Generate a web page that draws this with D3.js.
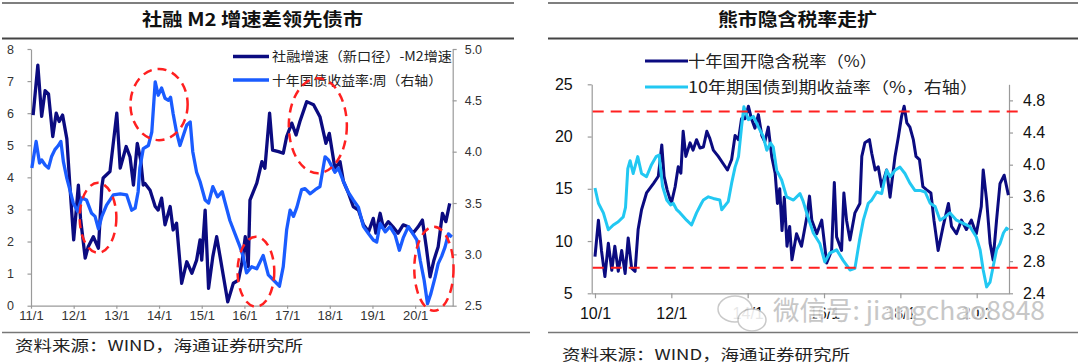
<!DOCTYPE html>
<html><head><meta charset="utf-8">
<script src="https://cdn.jsdelivr.net/npm/d3@7"></script>
<style>
body{margin:0;background:#fff}
svg{display:block}
.cjk{font-family:"Noto Sans CJK SC","Noto Sans",sans-serif}
.num{font-family:"Liberation Sans",Arial,sans-serif}
</style></head>
<body><svg id="c" width="1080" height="364"></svg>
<script>
// ---------- LEFT CHART DATA ----------
const leftTitle = "社融 M2 增速差领先债市";
const leftSeriesNames = ["社融增速（新口径）-M2增速", "十年国债收益率:周（右轴）"];
const leftXTicks = [2011,2012,2013,2014,2015,2016,2017,2018,2019,2020];
const leftXTickLabels = ["11/1","12/1","13/1","14/1","15/1","16/1","17/1","18/1","19/1","20/1"];
const leftYTicks = [0,1,2,3,4,5,6,7,8];
const leftY2Ticks = [2.5,3.0,3.5,4.0,4.5,5.0];
const spreadDates = [2011.05,2011.16,2011.25,2011.33,2011.41,2011.51,2011.59,2011.66,2011.74,2011.84,2011.91,2012.0,2012.11,2012.16,2012.27,2012.34,2012.46,2012.58,2012.66,2012.69,2012.85,2013.01,2013.09,2013.23,2013.32,2013.40,2013.49,2013.57,2013.63,2013.67,2013.79,2013.91,2013.98,2014.06,2014.14,2014.26,2014.33,2014.41,2014.53,2014.65,2014.77,2014.88,2014.96,2015.0,2015.08,2015.16,2015.26,2015.35,2015.43,2015.51,2015.61,2015.74,2015.86,2015.94,2016.02,2016.09,2016.13,2016.29,2016.41,2016.48,2016.59,2016.66,2016.80,2016.91,2016.99,2017.11,2017.21,2017.30,2017.46,2017.62,2017.77,2017.91,2017.99,2018.12,2018.24,2018.32,2018.44,2018.55,2018.67,2018.79,2018.91,2019.02,2019.08,2019.18,2019.26,2019.37,2019.48,2019.60,2019.72,2019.84,2019.95,2020.07,2020.17,2020.26,2020.35,2020.44,2020.54,2020.64,2020.72,2020.81];
const spreadValues = [5.94,7.5,5.9,6.7,6.6,5.27,6.0,5.74,5.94,5.2,3.76,2.05,3.76,2.72,1.48,1.84,2.15,1.79,3.71,3.98,4.18,6.0,4.29,4.96,4.64,3.76,5.06,4.54,3.76,3.81,3.6,3.09,2.98,3.35,2.52,3.09,2.36,2.57,0.70,1.37,1.01,1.42,2.05,1.42,2.98,0.54,1.53,2.15,1.53,0.9,0.12,0.70,0.8,1.32,2.15,1.22,3.29,3.82,4.49,4.28,6.0,4.85,4.8,4.75,5.27,5.69,5.32,5.74,6.36,6.26,5.89,5.06,5.37,4.28,4.49,3.87,3.5,3.09,2.98,2.52,2.31,2.72,2.26,2.88,2.41,2.62,2.46,2.26,2.52,2.46,2.26,2.46,2.67,1.84,0.9,1.42,1.84,2.88,2.62,3.19];
const yieldWDates = [2011.02,2011.12,2011.20,2011.25,2011.33,2011.41,2011.48,2011.56,2011.64,2011.70,2011.76,2011.84,2011.91,2011.99,2012.09,2012.19,2012.30,2012.42,2012.50,2012.58,2012.66,2012.77,2012.93,2013.09,2013.24,2013.36,2013.44,2013.51,2013.55,2013.63,2013.75,2013.83,2013.91,2013.98,2014.06,2014.14,2014.22,2014.27,2014.33,2014.41,2014.49,2014.57,2014.65,2014.73,2014.79,2014.88,2014.96,2015.08,2015.16,2015.26,2015.37,2015.48,2015.55,2015.66,2015.78,2015.90,2015.97,2016.05,2016.17,2016.29,2016.44,2016.56,2016.68,2016.82,2016.91,2016.99,2017.07,2017.15,2017.23,2017.34,2017.42,2017.54,2017.66,2017.77,2017.89,2017.97,2018.12,2018.20,2018.32,2018.44,2018.55,2018.67,2018.79,2018.91,2019.02,2019.10,2019.18,2019.30,2019.41,2019.53,2019.63,2019.72,2019.84,2019.92,2020.04,2020.12,2020.21,2020.29,2020.37,2020.47,2020.54,2020.62,2020.70,2020.78,2020.86];
const yieldWValues = [3.84,4.10,3.89,3.92,3.87,3.84,3.95,4.02,4.06,4.10,3.90,3.74,3.63,3.50,3.42,3.55,3.53,3.40,3.37,3.25,3.37,3.48,3.58,3.59,3.58,3.43,3.45,3.61,3.84,4.03,4.06,4.19,4.68,4.55,4.62,4.52,4.50,4.53,4.37,4.19,4.06,4.16,4.26,4.29,4.00,3.80,3.71,3.53,3.50,3.66,3.56,3.61,3.50,3.33,3.20,3.07,2.98,2.82,2.88,2.86,2.99,2.80,2.75,2.69,2.88,3.24,3.43,3.37,3.46,3.63,3.64,3.59,3.63,3.66,3.95,3.92,3.80,3.84,3.71,3.60,3.53,3.46,3.27,3.20,3.14,3.12,3.30,3.22,3.27,3.19,3.04,3.16,3.27,3.22,3.14,2.94,2.75,2.52,2.62,2.78,2.91,2.98,3.07,3.20,3.17];
// highlight ellipses: [center date, center value(left axis), half-width in years, half-height in left units]
const circleDates = [2012.57, 2014.0, 2016.27, 2017.72, 2020.44];
const circleValues = [2.74, 6.27, 1.06, 5.61, 1.15];
const circleHalfYears = [0.43, 0.67, 0.43, 0.68, 0.46];
const circleHalfValues = [1.09, 1.11, 1.09, 1.48, 1.31];

// ---------- RIGHT CHART DATA ----------
const rightTitle = "熊市隐含税率走扩";
const rightSeriesNames = ["十年国开隐含税率（%）", "10年期国债到期收益率（%，右轴）"];
const rightXTicks = [2010,2012,2014,2016,2018,2020];
const rightXTickLabels = ["10/1","12/1","14/1","16/1","18/1","20/1"];
const rightYTicks = [5,10,15,20,25];
const rightY2Ticks = [2.4,2.8,3.2,3.6,4.0,4.4,4.8];
const refLevels = [22.4, 7.45];
const taxDates = [2010.00,2010.09,2010.17,2010.26,2010.35,2010.44,2010.52,2010.61,2010.70,2010.79,2010.87,2010.96,2011.05,2011.13,2011.22,2011.35,2011.53,2011.66,2011.75,2011.81,2011.89,2012.00,2012.10,2012.18,2012.25,2012.31,2012.38,2012.49,2012.57,2012.66,2012.75,2012.84,2012.93,2013.01,2013.10,2013.23,2013.36,2013.47,2013.58,2013.67,2013.76,2013.84,2013.93,2014.02,2014.10,2014.19,2014.28,2014.37,2014.45,2014.54,2014.63,2014.72,2014.78,2014.84,2014.90,2014.96,2015.03,2015.10,2015.16,2015.28,2015.41,2015.55,2015.62,2015.68,2015.81,2015.94,2016.07,2016.20,2016.27,2016.33,2016.46,2016.52,2016.59,2016.68,2016.81,2016.94,2016.99,2017.07,2017.19,2017.25,2017.34,2017.42,2017.51,2017.64,2017.73,2017.86,2017.95,2018.03,2018.10,2018.17,2018.25,2018.34,2018.41,2018.50,2018.59,2018.69,2018.80,2018.88,2018.99,2019.12,2019.26,2019.34,2019.47,2019.60,2019.73,2019.86,2019.99,2020.12,2020.17,2020.26,2020.35,2020.43,2020.52,2020.61,2020.72,2020.83];
const taxValues = [8.5,12.0,9.1,6.6,9.8,7.2,9.5,7.1,9.1,6.9,10.3,7.4,7.1,11.1,13.0,14.6,15.5,16.2,19.2,16.2,14.9,13.6,15.2,17.1,16.5,20.5,18.1,19.4,18.7,19.7,18.9,19.0,20.5,19.8,18.7,18.1,17.4,16.8,17.8,20.1,19.7,21.7,21.7,22.9,21.7,20.8,22.1,20.1,19.5,20.9,18.1,16.5,13.6,15.0,11.0,14.2,9.5,11.4,8.2,10.7,9.5,12.3,14.3,12.0,10.7,12.0,7.9,9.1,15.6,10.4,9.1,14.6,12.0,10.1,12.7,13.6,18.1,19.4,19.7,18.4,16.8,17.1,15.2,16.8,14.2,18.1,20.0,21.9,22.9,21.3,20.9,19.7,18.1,17.8,15.2,14.9,14.6,12.0,9.1,11.4,13.6,11.4,10.7,12.0,11.1,12.0,10.7,13.3,16.8,13.9,9.8,8.2,12.0,15.5,16.3,14.4];
const cgbDates = [2010.00,2010.09,2010.22,2010.35,2010.48,2010.61,2010.74,2010.80,2010.86,2010.92,2011.00,2011.12,2011.22,2011.35,2011.48,2011.60,2011.68,2011.77,2011.88,2011.98,2012.05,2012.14,2012.23,2012.40,2012.53,2012.66,2012.79,2012.84,2012.97,2013.10,2013.27,2013.32,2013.49,2013.58,2013.67,2013.76,2013.84,2013.90,2014.02,2014.15,2014.28,2014.41,2014.50,2014.60,2014.67,2014.76,2014.89,2015.02,2015.20,2015.37,2015.45,2015.58,2015.72,2015.89,2016.02,2016.15,2016.33,2016.50,2016.68,2016.81,2016.93,2017.03,2017.16,2017.25,2017.38,2017.51,2017.64,2017.73,2017.86,2017.99,2018.12,2018.25,2018.38,2018.51,2018.65,2018.78,2018.91,2019.04,2019.17,2019.30,2019.47,2019.65,2019.82,2019.99,2020.09,2020.17,2020.26,2020.35,2020.43,2020.52,2020.61,2020.70,2020.78,2020.83];
const cgbValues = [3.71,3.52,3.40,3.19,3.25,3.29,3.35,3.47,3.95,4.05,3.89,4.10,3.89,3.85,4.00,4.10,4.12,3.73,3.56,3.50,3.52,3.44,3.40,3.31,3.25,3.40,3.52,3.56,3.60,3.58,3.56,3.44,3.54,3.77,3.97,4.10,4.47,4.72,4.56,4.60,4.47,4.35,4.18,4.27,4.22,3.93,3.81,3.60,3.56,3.64,3.55,3.35,3.15,3.02,2.79,2.90,2.94,2.81,2.69,2.71,3.06,3.31,3.52,3.56,3.66,3.64,3.93,3.85,3.93,3.97,3.89,3.77,3.68,3.68,3.66,3.52,3.48,3.31,3.35,3.40,3.31,3.27,3.23,3.10,2.94,2.69,2.48,2.54,2.73,2.94,3.02,3.15,3.21,3.19];

const sourceText = "资料来源：WIND，海通证券研究所";
const watermarkText = "微信号: jiangchao8848";

// ---------- DRAW ----------
const svg = d3.select("#c");
const NAVY = "#0b0b80", BLUE = "#1a5cff", CYAN = "#22c8f2", RED = "#ff2020";

function rule(x1,x2,y,w,c){svg.append("line").attr("x1",x1).attr("x2",x2).attr("y1",y).attr("y2",y).attr("stroke",c||"#555").attr("stroke-width",w);}
function styleAxis(g, fs, col, fam){
  g.select(".domain").attr("stroke","#9a9a9a").attr("stroke-width",1.2);
  g.selectAll(".tick line").attr("stroke","#9a9a9a").attr("stroke-width",1.2);
  g.selectAll(".tick text").attr("font-size",fs).attr("fill",col).attr("font-family",'"Liberation Sans",Arial,sans-serif');
}

// frame rules
rule(2,514,3,1.5,"#555"); rule(2,514,38.5,2,"#444"); rule(2,530,332.5,1.5,"#777");
rule(548,1078,3,1.5,"#555"); rule(548,1078,38.5,2,"#444"); rule(548,1078,332.5,1.5,"#777");

// titles
svg.append("text").attr("class","cjk").attr("x",142).attr("y",26).attr("font-size",18).attr("font-weight",700)
  .attr("textLength",221).attr("lengthAdjust","spacingAndGlyphs").attr("fill","#111").text(leftTitle);
svg.append("text").attr("class","cjk").attr("x",718).attr("y",26).attr("font-size",18).attr("font-weight",700)
  .attr("textLength",159).attr("lengthAdjust","spacingAndGlyphs").attr("fill","#111").text(rightTitle);

// sources
svg.append("text").attr("class","cjk").attr("x",15).attr("y",351).attr("font-size",15).attr("fill","#222")
  .attr("textLength",288).attr("lengthAdjust","spacingAndGlyphs").text(sourceText);
svg.append("text").attr("class","cjk").attr("x",562).attr("y",360).attr("font-size",15).attr("fill","#222")
  .attr("textLength",288).attr("lengthAdjust","spacingAndGlyphs").text(sourceText);

// ===== LEFT CHART =====
const xL = d3.scaleLinear().domain([2011, 2020.88]).range([31, 452.7]);
const yL = d3.scaleLinear().domain([0, 8]).range([305.7, 49]);
const yL2 = d3.scaleLinear().domain([2.5, 5.0]).range([305.7, 49]);

const gLx = svg.append("g").attr("transform","translate(0,305.7)")
  .call(d3.axisBottom(xL).tickValues(leftXTicks).tickFormat((d,i)=>leftXTickLabels[i]).tickSize(3).tickSizeOuter(0).tickPadding(2));
styleAxis(gLx,13,"#333");
const gLy = svg.append("g").attr("transform","translate(31,0)")
  .call(d3.axisLeft(yL).tickValues(leftYTicks).tickFormat(d3.format("d")).tickSize(3.5).tickSizeOuter(0).tickPadding(13.5));
styleAxis(gLy,12.5,"#333");
const gLy2 = svg.append("g").attr("transform","translate(452.7,0)")
  .call(d3.axisRight(yL2).tickValues(leftY2Ticks).tickFormat(d3.format(".1f")).tickSize(4).tickSizeOuter(0).tickPadding(8));
styleAxis(gLy2,12.5,"#333");

const spreadData = spreadDates.map((d,i)=>[d, spreadValues[i]]);
const yieldWData = yieldWDates.map((d,i)=>[d, yieldWValues[i]]);
svg.append("path").datum(spreadData).attr("fill","none").attr("stroke",NAVY).attr("stroke-width",3.3)
  .attr("stroke-linejoin","round").attr("d", d3.line().x(d=>xL(d[0])).y(d=>yL(d[1])));
svg.append("path").datum(yieldWData).attr("fill","none").attr("stroke",BLUE).attr("stroke-width",3.3)
  .attr("stroke-linejoin","round").attr("d", d3.line().x(d=>xL(d[0])).y(d=>yL2(d[1])));

// left legend
[[NAVY,56.5],[BLUE,80]].forEach((s,i)=>{
  svg.append("line").attr("x1",233).attr("x2",269).attr("y1",s[1]).attr("y2",s[1]).attr("stroke",s[0]).attr("stroke-width",3.3);
  svg.append("text").attr("class","cjk").attr("x",272).attr("y",s[1]+4.5).attr("font-size",13).attr("fill","#222")
    .attr("textLength", i===0?180:170).attr("lengthAdjust","spacingAndGlyphs").text(leftSeriesNames[i]);
});

// ellipses
circleDates.forEach((d,i)=>{
  const cx = xL(d), cy = yL(circleValues[i]);
  const rx = xL(d+circleHalfYears[i]) - cx, ry = cy - yL(circleValues[i]+circleHalfValues[i]);
  svg.append("ellipse").attr("cx",cx).attr("cy",cy).attr("rx",rx).attr("ry",ry)
    .attr("fill","none").attr("stroke",RED).attr("stroke-width",2.5).attr("stroke-dasharray","9,6");
});

// ===== RIGHT CHART =====
const xR = d3.scaleLinear().domain([2009.914, 2020.846]).range([591.7, 1009]);
const yR = d3.scaleLinear().domain([5, 25]).range([293.3, 84.3]);
const yR2 = d3.scaleLinear().domain([2.4, 5.0]).range([293.3, 84.3]);

const gRx = svg.append("g").attr("transform","translate(0,293.3)")
  .call(d3.axisBottom(xR).tickValues(rightXTicks).tickFormat((d,i)=>rightXTickLabels[i]).tickSize(5).tickSizeOuter(0).tickPadding(9));
styleAxis(gRx,16,"#111");
const gRy = svg.append("g").attr("transform","translate(591.7,0)")
  .call(d3.axisLeft(yR).tickValues(rightYTicks).tickSize(4).tickSizeOuter(0).tickPadding(15));
styleAxis(gRy,16,"#111");
const gRy2 = svg.append("g").attr("transform","translate(1009,0)")
  .call(d3.axisRight(yR2).tickValues(rightY2Ticks).tickFormat(d3.format(".1f")).tickSize(4).tickSizeOuter(0).tickPadding(10));
styleAxis(gRy2,16,"#111");

const taxData = taxDates.map((d,i)=>[d, taxValues[i]]);
const cgbData = cgbDates.map((d,i)=>[d, cgbValues[i]]);
svg.append("path").datum(taxData).attr("fill","none").attr("stroke",NAVY).attr("stroke-width",3)
  .attr("stroke-linejoin","round").attr("d", d3.line().x(d=>xR(d[0])).y(d=>yR(d[1])));
svg.append("path").datum(cgbData).attr("fill","none").attr("stroke",CYAN).attr("stroke-width",3)
  .attr("stroke-linejoin","round").attr("d", d3.line().x(d=>xR(d[0])).y(d=>yR2(d[1])));

refLevels.forEach(v=>{
  svg.append("line").attr("x1",xR.range()[0]+1).attr("x2",xR.range()[1]+14).attr("y1",yR(v)).attr("y2",yR(v))
    .attr("stroke",RED).attr("stroke-width",2).attr("stroke-dasharray","11,7");
});

// right legend
[[NAVY,61],[CYAN,87]].forEach((s,i)=>{
  svg.append("line").attr("x1",645).attr("x2",688).attr("y1",s[1]).attr("y2",s[1]).attr("stroke",s[0]).attr("stroke-width",3);
  svg.append("text").attr("class","cjk").attr("x",688).attr("y",s[1]+5.5).attr("font-size",15.5).attr("fill","#222")
    .attr("textLength", i===0?189:290).attr("lengthAdjust","spacingAndGlyphs").text(rightSeriesNames[i]);
});

// watermark
const wm = svg.append("g").attr("opacity",0.9);
wm.append("ellipse").attr("cx",735).attr("cy",309).attr("rx",17).attr("ry",13).attr("fill","#fff").attr("stroke","#c4c4c4").attr("stroke-width",1.5);
wm.append("ellipse").attr("cx",752).attr("cy",320).attr("rx",14).attr("ry",11).attr("fill","#fff").attr("stroke","#c4c4c4").attr("stroke-width",1.5);
wm.append("text").attr("class","cjk").attr("x",773).attr("y",320).attr("font-size",26).attr("fill","#c2c2c2")
  .attr("stroke","#fff").attr("stroke-width",3).attr("paint-order","stroke")
  .attr("textLength",272).attr("lengthAdjust","spacingAndGlyphs").text(watermarkText);
</script></body></html>
